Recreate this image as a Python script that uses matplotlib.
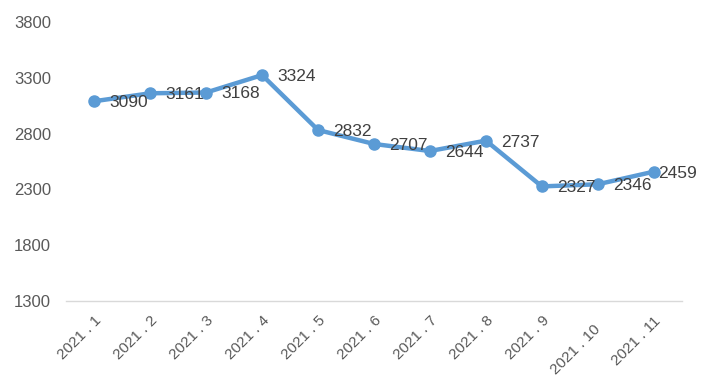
import matplotlib.pyplot as plt
from matplotlib.transforms import ScaledTranslation

months = ['2021.1', '2021.2', '2021.3', '2021.4', '2021.5', '2021.6',
          '2021.7', '2021.8', '2021.9', '2021.10', '2021.11']
values = [3090, 3161, 3168, 3324, 2832, 2707, 2644, 2737, 2327, 2346, 2459]
yticks = [1300, 1800, 2300, 2800, 3300, 3800]

plt.rcParams['font.family'] = ['Liberation Sans', 'DejaVu Sans']

fig = plt.figure(figsize=(7.05, 3.92), dpi=100)
ax = fig.add_axes([0.094, 0.232, 0.873, 0.712])

x = list(range(len(months)))
ax.plot(x, values, color='#5B9BD5', linewidth=3.2, marker='o', markersize=8,
        solid_capstyle='round', zorder=3)

for xi, v in zip(x, values):
    # last label gets pushed in against the marker so it fits
    dx = 3.5 if xi == len(x) - 1 else 11
    ax.annotate(str(v), (xi, v), xytext=(dx, -1), textcoords='offset points',
                ha='left', va='center', fontsize=12.5, color='#404040', zorder=4)

ax.set_xlim(-0.5, len(months) - 0.5)
ax.set_ylim(1300, 3800)
ax.set_yticks(yticks)
ax.set_xticks(x)
# spaces around the dot like the original labels
ax.set_xticklabels([m.replace('.', ' . ') for m in months], rotation=45,
                   ha='right', rotation_mode='anchor', fontsize=11, color='#595959')
ax.tick_params(axis='y', labelsize=12, labelcolor='#595959', length=0, pad=11)
ax.tick_params(axis='x', length=0, pad=9)

# the 2021.10 label sits a little lower in the original
lbl = ax.get_xticklabels()[9]
lbl.set_transform(lbl.get_transform() + ScaledTranslation(-3/72, -6/72, fig.dpi_scale_trans))

for s in ['top', 'right', 'left']:
    ax.spines[s].set_visible(False)
ax.spines['bottom'].set_color('#D9D9D9')
ax.spines['bottom'].set_linewidth(1)

fig.savefig('out.png', dpi=100)
